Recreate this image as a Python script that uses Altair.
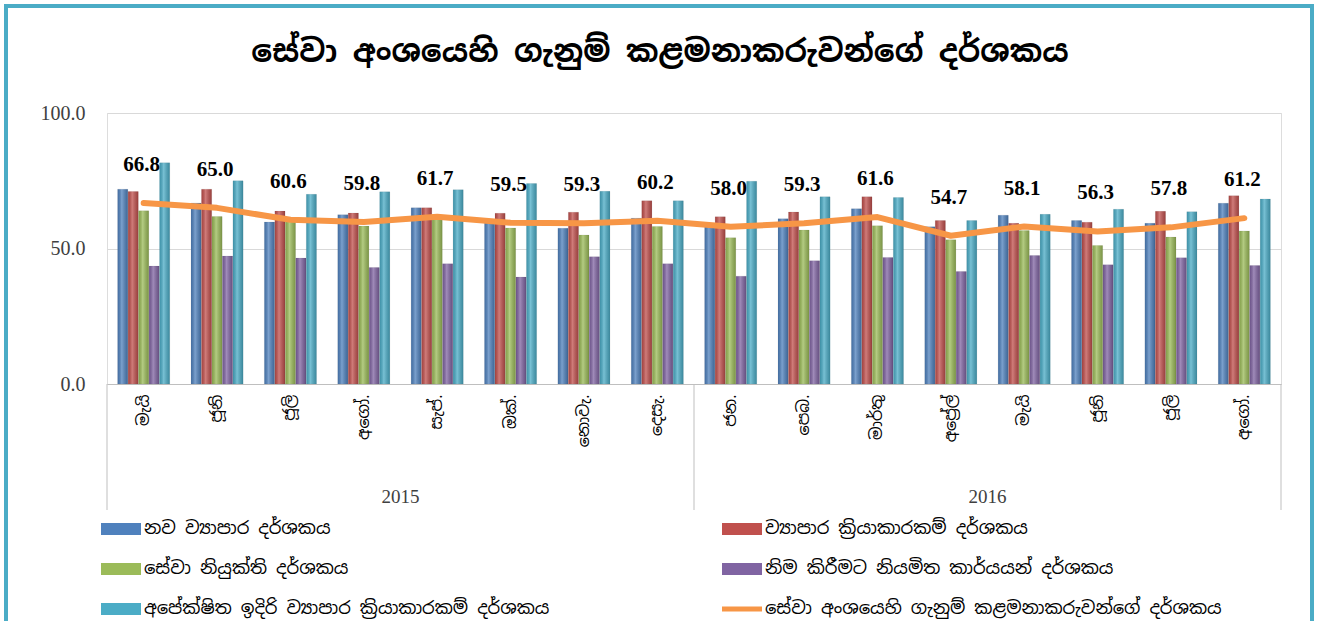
import altair as alt
import pandas as pd

# ---------------- data ----------------
periods = [f"{i:02d}" for i in range(1, 17)]
month_labels = ["මැයි", "ජූනි", "ජූලි", "අගෝ.", "සැප්.", "ඔක්.", "නොවැ.", "දෙසැ.",
                "ජන.", "පෙබ.", "මාර්තු", "අප්\u200dරේල්", "මැයි", "ජූනි", "ජූලි", "අගෝ."]
year_names = ["2015", "2016"]
year_mid_period = ["05", "13"]     # boundary in the middle of each 8-month block
year_start_period = ["01", "09"]
title_text = "සේවා අංශයෙහි ගැනුම් කළමනාකරුවන්ගේ දර්ශකය"

s_new = "නව ව්\u200dයාපාර දර්ශකය"
s_act = "ව්\u200dයාපාර ක්\u200dරියාකාරකම් දර්ශකය"
s_emp = "සේවා නියුක්ති දර්ශකය"
s_back = "නිම කිරීමට නියමිත කාර්යයන් දර්ශකය"
s_exp = "අපේක්ෂිත ඉදිරි ව්\u200dයාපාර ක්\u200dරියාකාරකම් දර්ශකය"
s_pmi = "සේවා අංශයෙහි ගැනුම් කළමනාකරුවන්ගේ දර්ශකය"
bar_series = [s_new, s_act, s_emp, s_back, s_exp]
all_series = [s_new, s_act, s_emp, s_back, s_exp, s_pmi]

new_business = [71.9, 66.8, 59.8, 62.5, 65.0, 60.5, 57.5, 61.2, 58.5, 61.0, 64.7, 58.0, 62.3, 60.3, 59.3, 66.7]
business_act = [71.0, 71.9, 63.8, 63.1, 65.0, 63.0, 63.4, 67.6, 61.7, 63.5, 69.1, 60.3, 59.3, 59.7, 63.7, 69.5]
employment   = [63.9, 61.8, 61.0, 58.3, 61.0, 57.6, 55.0, 58.1, 54.0, 56.8, 58.4, 53.2, 56.6, 51.1, 54.2, 56.5]
backlogs     = [43.5, 47.2, 46.5, 43.0, 44.4, 39.5, 47.0, 44.4, 39.8, 45.5, 46.7, 41.5, 47.4, 44.0, 46.6, 43.7]
expected     = [81.6, 75.0, 70.0, 70.9, 71.7, 74.0, 71.1, 67.6, 74.8, 69.1, 68.8, 60.3, 62.6, 64.5, 63.6, 68.3]
pmi          = [66.8, 65.0, 60.6, 59.8, 61.7, 59.5, 59.3, 60.2, 58.0, 59.3, 61.6, 54.7, 58.1, 56.3, 57.8, 61.2]

colors = ["#4F81BD", "#C0504D", "#9BBB59", "#8064A2", "#4BACC6", "#F79646"]
bar_shape = "M-1,-0.3 L1,-0.3 L1,0.3 L-1,0.3 Z"
line_shape = "M-1,-0.13 L1,-0.13 L1,0.13 L-1,0.13 Z"

# ---------------- tables ----------------
rows = []
for name, vals in zip(bar_series, [new_business, business_act, employment, backlogs, expected]):
    for p, v in zip(periods, vals):
        rows.append({"period": p, "series": name, "value": v})
bars_df = pd.DataFrame(rows)
pmi_df = pd.DataFrame({"period": periods, "value": pmi, "series": s_pmi})
legend_df = pd.DataFrame({"series": all_series, "period": periods[0], "value": 0})
years_df = pd.DataFrame({"year": year_names, "period": year_mid_period})
sep_df = pd.DataFrame({"period": year_start_period})
sep_end_df = pd.DataFrame({"period": [periods[-1]]})
title_df = pd.DataFrame({"t": [title_text]})

W, H = 1174, 271
PI, PO = 0.29, 0.145
step = W / len(periods)
half_gap = step * PI / 2            # pixels between a band edge and the step boundary
bandwidth = step * (1 - PI)
sinhala = "Noto Sans Sinhala, Iskoola Pota, Noto Sans, sans-serif"
serif = "Liberation Serif, Times New Roman, serif"

label_arr = "[" + ",".join("'" + m + "'" for m in month_labels) + "]"
x_scale = alt.Scale(domain=periods, paddingInner=PI, paddingOuter=PO)
x_plain = alt.X("period:N", scale=x_scale, sort=periods)
x_enc = alt.X("period:N", scale=x_scale, sort=periods,
              axis=alt.Axis(title=None, labelAngle=270, labelFont=sinhala, labelFontSize=16,
                            labelColor="#000000", labelPadding=10, ticks=False, grid=False,
                            domainColor="#BFBFBF", labelExpr=label_arr + "[toNumber(datum.value)-1]"))
y_scale = alt.Scale(domain=[0, 100])
y_plain = alt.Y("value:Q", scale=y_scale)
y_enc = alt.Y("value:Q", scale=y_scale,
              axis=alt.Axis(title=None, values=[0, 50, 100], format=".1f", labelFont=serif,
                            labelFontSize=20, labelColor="#404040", labelPadding=22,
                            ticks=False, domain=False, gridColor="#D9D9D9"))
off_scale = alt.Scale(domain=bar_series, paddingInner=0.03)

bars = alt.Chart(bars_df).mark_bar(stroke="#3a3a3a", strokeOpacity=0.15, strokeWidth=0.5).encode(
    x=x_enc,
    xOffset=alt.XOffset("series:N", scale=off_scale, sort=bar_series),
    y=y_enc,
    color=alt.Color("series:N", scale=alt.Scale(domain=all_series, range=colors), legend=None),
)

shade = alt.Chart(bars_df).mark_bar(
    color=alt.Gradient(gradient="linear", x1=0, x2=1, y1=0, y2=0,
                       stops=[alt.GradientStop(offset=0, color="rgba(0,0,0,0.12)"),
                              alt.GradientStop(offset=0.4, color="rgba(255,255,255,0.25)"),
                              alt.GradientStop(offset=1, color="rgba(0,0,0,0.2)")])
).encode(
    x=x_plain,
    xOffset=alt.XOffset("series:N", scale=off_scale, sort=bar_series),
    y=y_plain,
)

line = alt.Chart(pmi_df).mark_line(color="#F79646", strokeWidth=6, strokeCap="round",
                                   strokeJoin="round").encode(x=x_plain, y=y_plain)

labels = alt.Chart(pmi_df).mark_text(font=serif, fontSize=21, fontWeight="bold", color="#000000",
                                     dy=-38, dx=-2).encode(
    x=x_plain, y=y_plain, text=alt.Text("value:Q", format=".1f"),
)

legend_pts = alt.Chart(legend_df).mark_point(filled=True, size=0, opacity=1).encode(
    x=x_plain,
    y=y_plain,
    color=alt.Color("series:N", scale=alt.Scale(domain=all_series, range=colors), sort=all_series,
                    legend=alt.Legend(title=None, orient="none", legendX=-6, legendY=H + 125,
                                      direction="horizontal", columns=2, columnPadding=172,
                                      rowPadding=11, labelFont=sinhala, labelFontSize=18,
                                      labelColor="#000000", labelLimit=0, symbolSize=1600,
                                      symbolOpacity=1, symbolStrokeWidth=0, labelOffset=3)),
    shape=alt.Shape("series:N", scale=alt.Scale(domain=all_series, range=[bar_shape] * 5 + [line_shape]),
                    sort=all_series),
)

seps = alt.Chart(sep_df).mark_rule(color="#BFBFBF", strokeWidth=1).encode(
    x=alt.X("period:N", scale=x_scale, sort=periods, bandPosition=0),
    xOffset=alt.value(-half_gap),
    y=alt.value(H), y2=alt.value(H + 126),
)
sep_end = alt.Chart(sep_end_df).mark_rule(color="#BFBFBF", strokeWidth=1).encode(
    x=alt.X("period:N", scale=x_scale, sort=periods, bandPosition=0),
    xOffset=alt.value(bandwidth + half_gap),
    y=alt.value(H), y2=alt.value(H + 126),
)

year_text = alt.Chart(years_df).mark_text(font=serif, fontSize=19, color="#404040", baseline="middle",
                                          dx=-half_gap).encode(
    x=alt.X("period:N", scale=x_scale, sort=periods, bandPosition=0),
    y=alt.value(H + 113),
    text="year:N",
)

title = alt.Chart(title_df).mark_text(font=sinhala, fontSize=31, fontWeight="bold", color="#000000",
                                      baseline="middle", align="center").encode(
    x=alt.value(553), y=alt.value(-60), text="t:N",
)

frame = alt.Chart(pd.DataFrame({"a": [0]})).mark_rect(fill=None, stroke="#4BACC6", strokeWidth=4).encode(
    x=alt.value(-101), x2=alt.value(1205), y=alt.value(-107), y2=alt.value(H + 250),
)

chart = alt.layer(frame, bars, shade, line, labels, legend_pts, seps, sep_end, year_text, title).properties(
    width=W, height=H,
    autosize=alt.AutoSizeParams(type="none"),
    padding={"left": 107, "top": 113, "right": 1319 - 107 - W, "bottom": 621 - 113 - H},
).resolve_scale(color="independent", shape="independent").configure_view(
    stroke=None, strokeWidth=0).configure(background="#FFFFFF")

chart.save("out.html", embed_options={"renderer": "svg", "actions": False})
